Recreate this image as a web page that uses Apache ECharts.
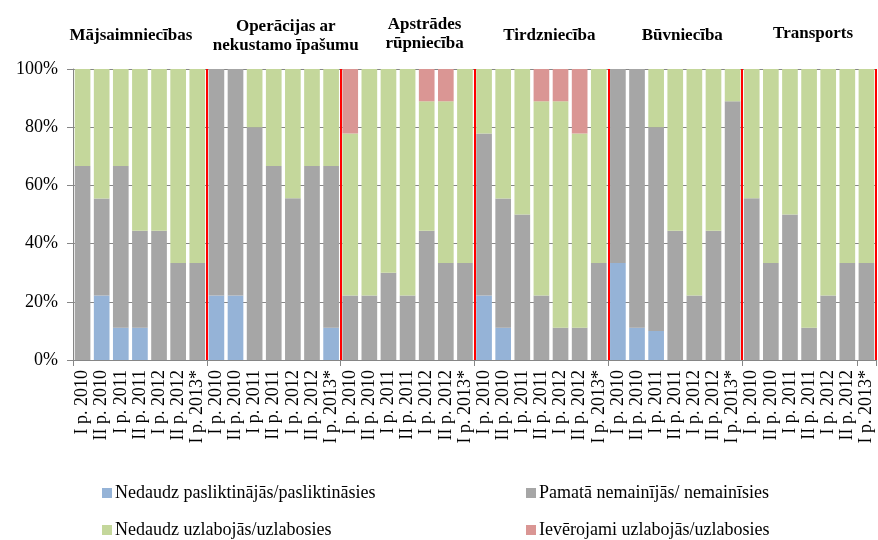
<!DOCTYPE html>
<html>
<head>
<meta charset="utf-8">
<script src="https://cdn.jsdelivr.net/npm/echarts@6/dist/echarts.min.js"></script>
<style>html,body{margin:0;padding:0;background:#fff;}#c{width:878px;height:540px;}</style>
</head>
<body>
<div id="c"></div>
<script>
var groups = ['Mājsaimniecības', 'Operācijas ar\nnekustamo īpašumu', 'Apstrādes\nrūpniecība', 'Tirdzniecība', 'Būvniecība', 'Transports'];
var periods = ['I p. 2010', 'II p. 2010', 'I p. 2011', 'II p. 2011', 'I p. 2012', 'II p. 2012', 'I p. 2013*'];
var seriesNames = ['Nedaudz pasliktinājās/pasliktināsies', 'Pamatā nemainījās/ nemainīsies', 'Nedaudz uzlabojās/uzlabosies', 'Ievērojami uzlabojās/uzlabosies'];
var yTicks = [0, 20, 40, 60, 80, 100];

var worse = [
  0, 22.2, 11.1, 11.1, 0, 0, 0,
  22.2, 22.2, 0, 0, 0, 0, 11.1,
  0, 0, 0, 0, 0, 0, 0,
  22.2, 11.1, 0, 0, 0, 0, 0,
  33.3, 11.1, 10, 0, 0, 0, 0,
  0, 0, 0, 0, 0, 0, 0
];
var same = [
  66.7, 33.3, 55.6, 33.3, 44.4, 33.3, 33.3,
  77.8, 77.8, 80, 66.7, 55.6, 66.7, 55.6,
  22.2, 22.2, 30, 22.2, 44.4, 33.3, 33.3,
  55.6, 44.4, 50, 22.2, 11.1, 11.1, 33.3,
  66.7, 88.9, 70, 44.4, 22.2, 44.4, 88.9,
  55.6, 33.3, 50, 11.1, 22.2, 33.3, 33.3
];
var better = [
  33.3, 44.5, 33.3, 55.6, 55.6, 66.7, 66.7,
  0, 0, 20, 33.3, 44.4, 33.3, 33.3,
  55.6, 77.8, 70, 77.8, 44.5, 55.6, 66.7,
  22.2, 44.5, 50, 66.7, 77.8, 66.7, 66.7,
  0, 0, 20, 55.6, 77.8, 55.6, 11.1,
  44.4, 66.7, 50, 88.9, 77.8, 66.7, 66.7
];
var muchBetter = [
  0, 0, 0, 0, 0, 0, 0,
  0, 0, 0, 0, 0, 0, 0,
  22.2, 0, 0, 0, 11.1, 11.1, 0,
  0, 0, 0, 11.1, 11.1, 22.2, 0,
  0, 0, 0, 0, 0, 0, 0,
  0, 0, 0, 0, 0, 0, 0
];

var colors = ['#95b3d7', '#a6a6a6', '#c4d79b', '#da9694'];
var FONT = '"Liberation Serif", "Times New Roman", serif';

var categories = [];
groups.forEach(function (g, gi) {
  periods.forEach(function (p) { categories.push(gi + '|' + p); });
});
var nPer = periods.length;
var boundaries = [];
for (var i = 1; i <= groups.length; i++) boundaries.push(i * nPer);

var gridLeft = 73, gridRight = 2, gridWidth = 878 - gridLeft - gridRight;
var titleOffsets = [-14, 7, 12, 3, 2, -1];
var titleTops = [21, 12, 10, 21, 21, 19];

var titles = groups.map(function (g, gi) {
  var cx = gridLeft + (gi + 0.5) * nPer * gridWidth / categories.length + titleOffsets[gi];
  return {
    text: g,
    left: cx,
    top: titleTops[gi],
    textAlign: 'center',
    textStyle: { fontFamily: FONT, fontSize: 17, fontWeight: 'bold', color: '#000', lineHeight: 19 }
  };
});

var legendPos = [[102, 483], [526, 483], [102, 520], [526, 520]];
var legends = seriesNames.map(function (n, i) {
  return {
    data: [n],
    left: legendPos[i][0],
    top: legendPos[i][1],
    icon: 'rect',
    itemWidth: 10,
    itemHeight: 10,
    itemGap: 0,
    padding: 0,
    textStyle: { fontFamily: FONT, fontSize: 18, color: '#000', lineHeight: 20, padding: [0, 0, 0, -2] }
  };
});

var values = [worse, same, better, muchBetter];
var series = seriesNames.map(function (n, i) {
  return {
    name: n,
    type: 'bar',
    stack: 'total',
    data: values[i],
    barCategoryGap: '18%',
    itemStyle: { color: colors[i] },
    xAxisIndex: 0,
    yAxisIndex: 0
  };
});
series.push({
  type: 'line',
  xAxisIndex: 1,
  yAxisIndex: 0,
  data: [[0, 0]],
  showSymbol: false,
  symbol: 'none',
  lineStyle: { opacity: 0 },
  silent: true,
  z: 10,
  markLine: {
    silent: true,
    symbol: ['none', 'none'],
    label: { show: false },
    lineStyle: { color: '#ff0000', width: 2, type: 'solid' },
    data: boundaries.map(function (b) { return { xAxis: b }; })
  }
});

var chart = echarts.init(document.getElementById('c'), null, { renderer: 'canvas' });
chart.setOption({
  animation: false,
  backgroundColor: '#fff',
  color: colors,
  title: titles,
  legend: legends,
  grid: { left: gridLeft, right: gridRight, top: 69, bottom: 180, containLabel: false },
  xAxis: [{
    type: 'category',
    data: categories,
    axisLine: { lineStyle: { color: '#868686', width: 1 } },
    axisTick: { show: true, interval: nPer - 1, length: 6, lineStyle: { color: '#868686' } },
    axisLabel: {
      interval: 0,
      rotate: 90,
      margin: 10,
      fontFamily: FONT,
      fontSize: 18,
      color: '#000',
      formatter: function (v) { return v.split('|')[1]; }
    }
  }, {
    type: 'value',
    min: 0,
    max: categories.length,
    show: false
  }],
  yAxis: {
    type: 'value',
    min: yTicks[0],
    max: yTicks[yTicks.length - 1],
    interval: 20,
    axisLine: { show: true, lineStyle: { color: '#868686' } },
    axisTick: { show: true, length: 6, lineStyle: { color: '#868686' } },
    splitLine: { show: true, lineStyle: { color: '#868686', width: 1 } },
    axisLabel: { fontFamily: FONT, fontSize: 18, color: '#000', margin: 15, formatter: '{value}%' }
  },
  series: series
});
</script>
</body>
</html>
